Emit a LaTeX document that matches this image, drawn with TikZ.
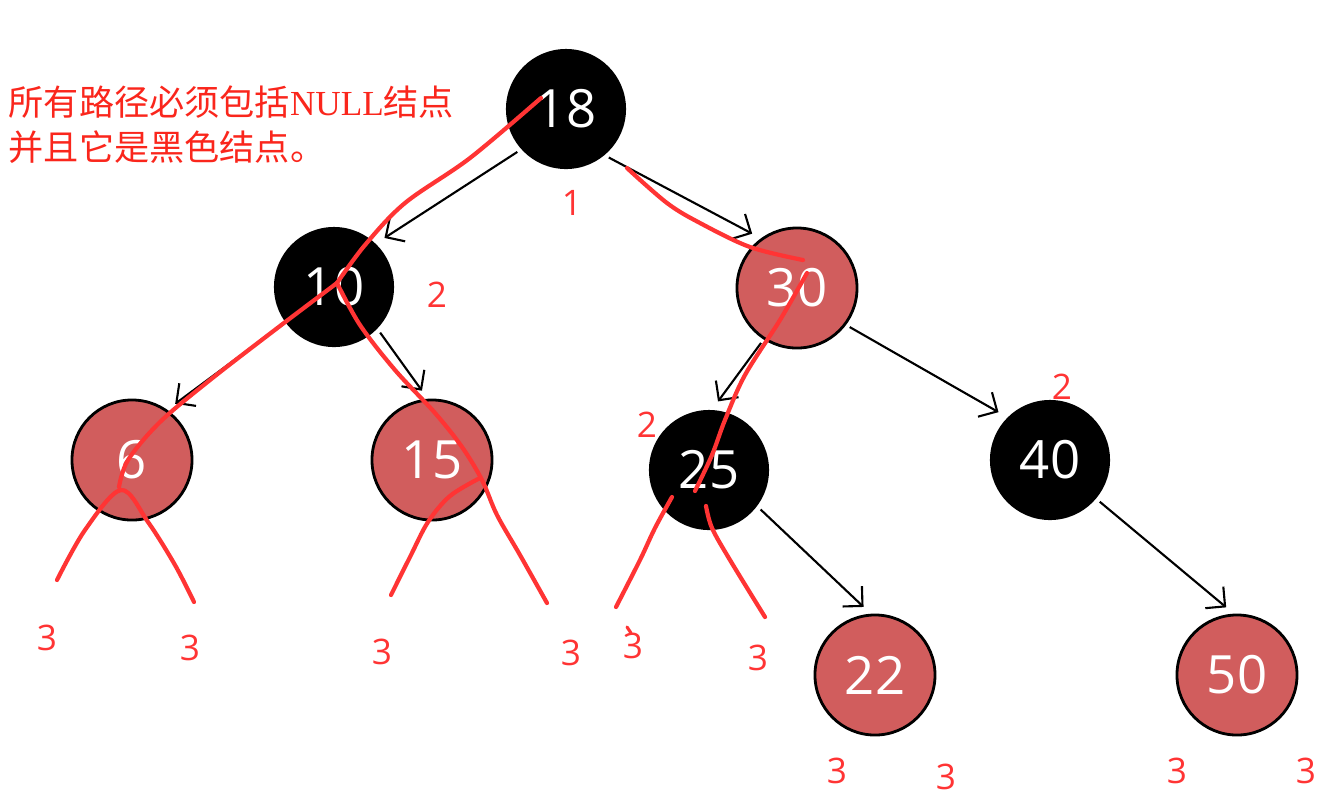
\documentclass[tikz,border=0pt]{standalone}
\usepackage{fontspec}
\setmainfont{Open Sans}
\newfontfamily\cjk{Noto Sans CJK SC}
\newfontfamily\serifnull{Liberation Serif}
\usetikzlibrary{arrows.meta}
\definecolor{rbred}{RGB}{209,93,93}
\definecolor{penred}{RGB}{255,52,52}
\definecolor{notered}{RGB}{250,38,28}

\begin{document}
\begin{tikzpicture}[x=0.01cm, y=-0.01cm, >={Straight Barb[length=4pt,width=8pt]},
  bnode/.style={circle, minimum size=1.2cm, inner sep=0pt, fill=black, text=white, font=\fontsize{15}{15}\selectfont},
  rnode/.style={bnode, fill=rbred, draw=black, line width=0.8pt},
  edge/.style={->, line width=0.6pt, shorten <=1.2pt, shorten >=2.8pt},
  pen/.style={penred, line width=1.2pt, line cap=round, line join=round},
  cnt/.style={text=penred, inner sep=0pt, font=\fontsize{10}{10}\selectfont}]
\useasboundingbox (0,0) rectangle (1329,805);
\node[bnode] (n18) at (566,109) {18};
\node[bnode] (n10) at (334,287) {10};
\node[rnode] (n30) at (797,288) {30};
\node[rnode] (n6) at (132,460) {6};
\node[rnode] (n15) at (432,460) {15};
\node[bnode] (n25) at (709,470) {25};
\node[bnode] (n40) at (1050,460) {40};
\node[rnode] (n22) at (875,675) {22};
\node[rnode] (n50) at (1237,675) {50};
\draw[edge] (n18.222) -- (n10.46);
\draw[edge] (n18.-50) -- (n30.126);
\draw[edge] (n10.216) -- (n6.55);
\draw[edge] (n10.-44) -- (n15.94);
\draw[edge] (n30.-123) -- (n25.87);
\draw[edge] (n30.-37) -- (n40.135);
\draw[edge] (n25.-37) -- (n22.94);
\draw[edge] (n40.-40) -- (n50.93);
\node[anchor=west, align=left, text=notered, inner sep=0pt, font=\fontsize{10}{12.8}\selectfont] (note) at (8,125)
  {\cjk 所有路径必须包括{\serifnull NULL}结点\\\cjk 并且它是黑色结点。};
\draw[pen] plot[smooth, tension=0.55] coordinates {(541,98) (470,158) (405,203) (365,245) (337,283)};
\draw[pen] plot[smooth, tension=0.55] coordinates {(337,283) (280,326) (210,380) (160,422) (128,460) (119,487)};
\draw[pen] plot[smooth, tension=0.55] coordinates {(57,580) (85,530) (121,490) (148,522) (175,565) (194,602)};
\draw[pen] plot[smooth, tension=0.55] coordinates {(337,283) (360,325) (395,370) (435,413) (462,447) (482,480) (497,515) (520,555) (547,603)};
\draw[pen] plot[smooth, tension=0.55] coordinates {(480,478) (450,496) (428,522) (410,557) (391,595)};
\draw[pen] plot[smooth, tension=0.55] coordinates {(627,168) (667,203) (700,223) (750,247) (803,260)};
\draw[pen] plot[smooth, tension=0.55] coordinates {(807,273) (780,320) (745,375) (725,420) (712,455) (695,491)};
\draw[pen] plot[smooth, tension=0.55] coordinates {(672,497) (655,528) (640,560) (616,607)};
\draw[pen] plot[smooth, tension=0.55] coordinates {(706,506) (712,528) (730,560) (765,617)};
\draw[pen, line width=0.9pt] (627,627) -- (631,633);
\node[cnt] (c18) at (572,203) {1};
\node[cnt] (c10) at (437,295) {2};
\node[cnt] (c25) at (647,425) {2};
\node[cnt] (c40) at (1062,387) {2};
\node[cnt] (c6l) at (47,638) {3};
\node[cnt] (c6r) at (190,648) {3};
\node[cnt] (c15l) at (382,652) {3};
\node[cnt] (c15r) at (571,653) {3};
\node[cnt] (c25l) at (633,646) {3};
\node[cnt] (c25r) at (758,658) {3};
\node[cnt] (c22l) at (837,771) {3};
\node[cnt] (c22r) at (946,777) {3};
\node[cnt] (c50l) at (1177,771) {3};
\node[cnt] (c50r) at (1306,771) {3};
\end{tikzpicture}
\end{document}
